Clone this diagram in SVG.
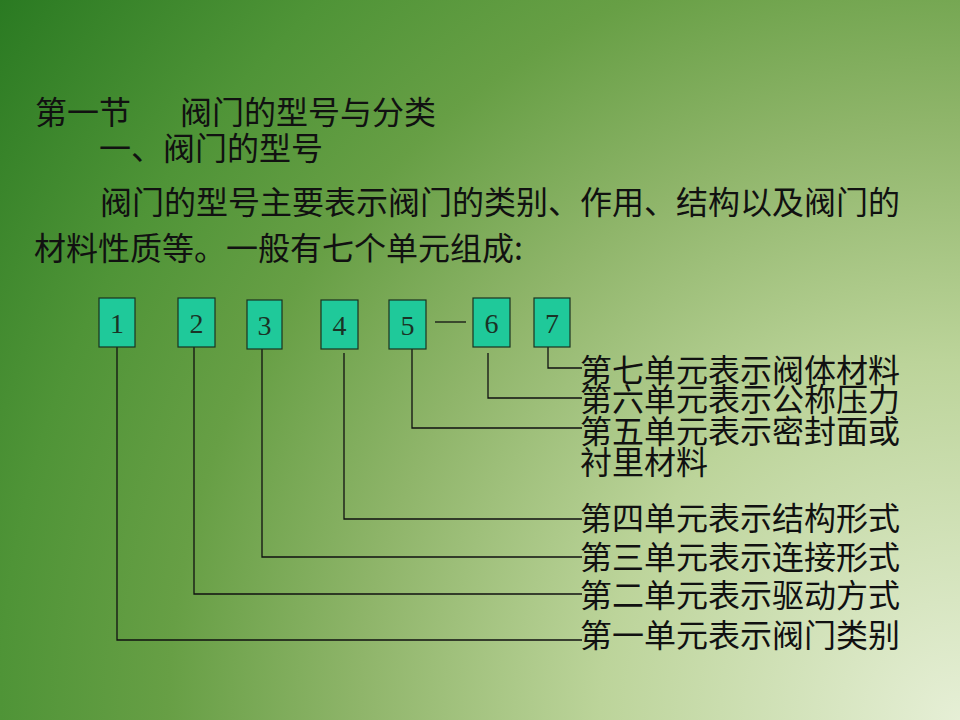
<svg xmlns="http://www.w3.org/2000/svg" width="960" height="720" viewBox="0 0 960 720">
<defs>
<radialGradient id="bg" cx="960" cy="720" r="1200" gradientUnits="userSpaceOnUse">
<stop offset="0" stop-color="#e6efd6"/>
<stop offset="0.3" stop-color="#bcd49a"/>
<stop offset="0.5" stop-color="#8fb56a"/>
<stop offset="0.66" stop-color="#679f45"/>
<stop offset="0.8" stop-color="#4f9437"/>
<stop offset="1" stop-color="#2a7a22"/>
</radialGradient>
<style>
.t{font-family:"Noto Sans CJK SC","Noto Sans CJK TC",sans-serif;font-size:32px;fill:#111;}
.box{fill:#1fc99a;stroke:#1b3320;stroke-width:1.2;}
.num{font-family:"Liberation Serif",serif;font-size:28px;fill:#1a3326;text-anchor:middle;}
.c{fill:none;stroke:#111;stroke-width:1.3;}
</style>
</defs>
<rect x="0" y="0" width="960" height="720" fill="url(#bg)"/>
<g id="header">
<text class="t" x="35" y="124">第一节</text>
<text class="t" x="180" y="124">阀门的型号与分类</text>
<text class="t" x="99" y="160">一、阀门的型号</text>
<text class="t" x="100" y="214">阀门的型号主要表示阀门的类别、作用、结构以及阀门的</text>
<text class="t" x="34" y="260">材料性质等。一般有七个单元组成:</text>
</g>
<g id="connectors">
<polyline class="c" points="117,347 117,640 582,640"/>
<polyline class="c" points="194,347 194,594 582,594"/>
<polyline class="c" points="262,349 262,557 582,557"/>
<polyline class="c" points="344,353 344,519 582,519"/>
<polyline class="c" points="412,349 412,428 582,428"/>
<polyline class="c" points="488,353 488,398 582,398"/>
<polyline class="c" points="548,347 548,368 582,368"/>
<line class="c" x1="435" y1="322" x2="466" y2="322"/>
</g>
<g id="n1"><rect class="box" x="99" y="298" width="36" height="49"/><text class="num" x="117" y="333">1</text></g>
<g id="n2"><rect class="box" x="178" y="298" width="37" height="49"/><text class="num" x="196.5" y="333">2</text></g>
<g id="n3"><rect class="box" x="247" y="300" width="35" height="49"/><text class="num" x="264.5" y="335">3</text></g>
<g id="n4"><rect class="box" x="321" y="300" width="37" height="49"/><text class="num" x="339.5" y="335">4</text></g>
<g id="n5"><rect class="box" x="389" y="300" width="37" height="49"/><text class="num" x="407.5" y="335">5</text></g>
<g id="n6"><rect class="box" x="473" y="298" width="37" height="49"/><text class="num" x="491.5" y="333">6</text></g>
<g id="n7"><rect class="box" x="534" y="298" width="36" height="49"/><text class="num" x="552" y="333">7</text></g>
<g id="labels">
<text class="t" x="580" y="382">第七单元表示阀体材料</text>
<text class="t" x="580" y="411">第六单元表示公称压力</text>
<text class="t" x="580" y="443">第五单元表示密封面或</text>
<text class="t" x="580" y="474">衬里材料</text>
<text class="t" x="580" y="530">第四单元表示结构形式</text>
<text class="t" x="580" y="569">第三单元表示连接形式</text>
<text class="t" x="580" y="607">第二单元表示驱动方式</text>
<text class="t" x="580" y="647">第一单元表示阀门类别</text>
</g>
</svg>
